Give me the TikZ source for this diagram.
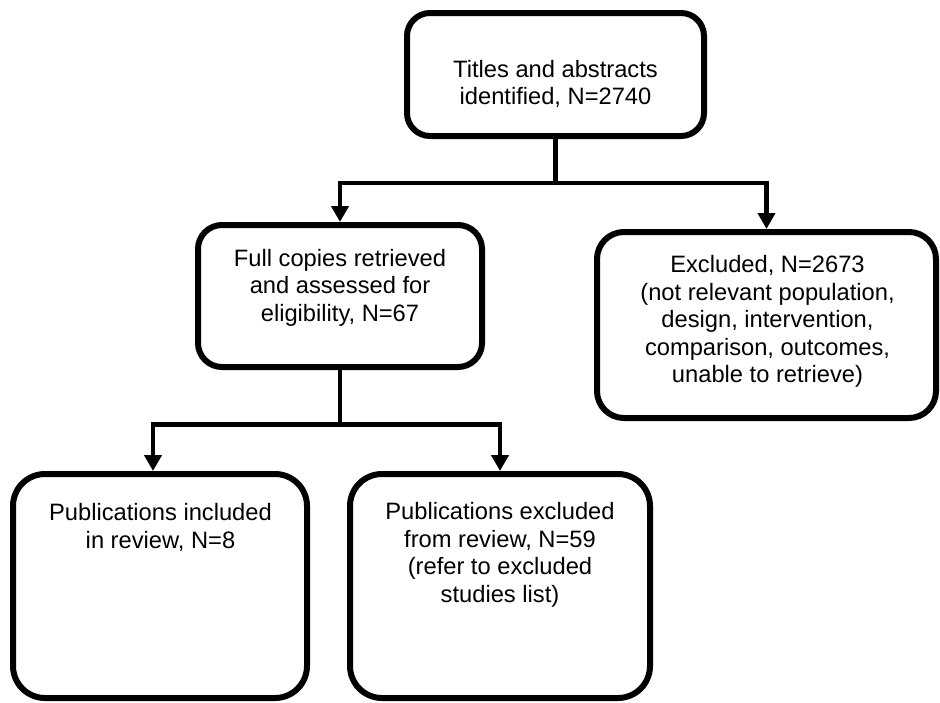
\documentclass[tikz,border=0pt]{standalone}
\usepackage{fontspec}
\setmainfont{Liberation Sans}
\usetikzlibrary{arrows.meta,calc}
\begin{document}
\begin{tikzpicture}[x=1pt,y=-1pt,
  box/.style={draw=black, line width=6pt, fill=white, inner sep=0pt},
  txt/.style={align=center, font=\fontsize{23.7}{27.5}\selectfont, inner sep=0pt, text=black},
  conn/.style={draw=black, line width=4.6pt},
  arr/.style={conn, -{Triangle[width=17pt,length=16pt]}}]
\useasboundingbox[fill=white] (0,0) rectangle (940,702);

% boxes
\node[box, rounded corners=23pt, minimum width=297pt, minimum height=123pt] (b1) at (555.5,74.5) {};
\node[box, rounded corners=24pt, minimum width=284pt, minimum height=142pt] (b2) at (340,296) {};
\node[box, rounded corners=27pt, minimum width=339pt, minimum height=186pt] (b3) at (766.5,325) {};
\node[box, rounded corners=32pt, minimum width=294pt, minimum height=224pt] (b4) at (160,586) {};
\node[box, rounded corners=32pt, minimum width=300pt, minimum height=224pt] (b5) at (500,586) {};

% texts
\node[txt] (t1) at (555.5,84) {Titles and abstracts\\identified, N=2740};
\node[txt] (t2) at (340,287.5) {Full copies retrieved\\and assessed for\\eligibility, N=67};
\node[txt] (t3) at (767.5,321.5) {Excluded, N=2673\\(not relevant population,\\design, intervention,\\comparison, outcomes,\\unable to retrieve)};
\node[txt] (t4) at (160.5,527.5) {Publications included\\in review, N=8};
\node[txt] (t5) at (500,555) {Publications excluded\\from review, N=59\\(refer to excluded\\studies list)};

% connectors
\coordinate (j1) at (555.5,183);
\draw[conn] (b1.south) -- (j1);
\draw[arr] (j1) -| (b2.north);
\draw[arr] (j1) -| (b3.north);

\coordinate (j2) at (340,424.5);
\coordinate (e4) at ([xshift=-7pt]b4.north);
\draw[conn] (b2.south) -- (j2);
\draw[arr] (j2) -| (e4);
\draw[arr] (j2) -| (b5.north);
\end{tikzpicture}
\end{document}
